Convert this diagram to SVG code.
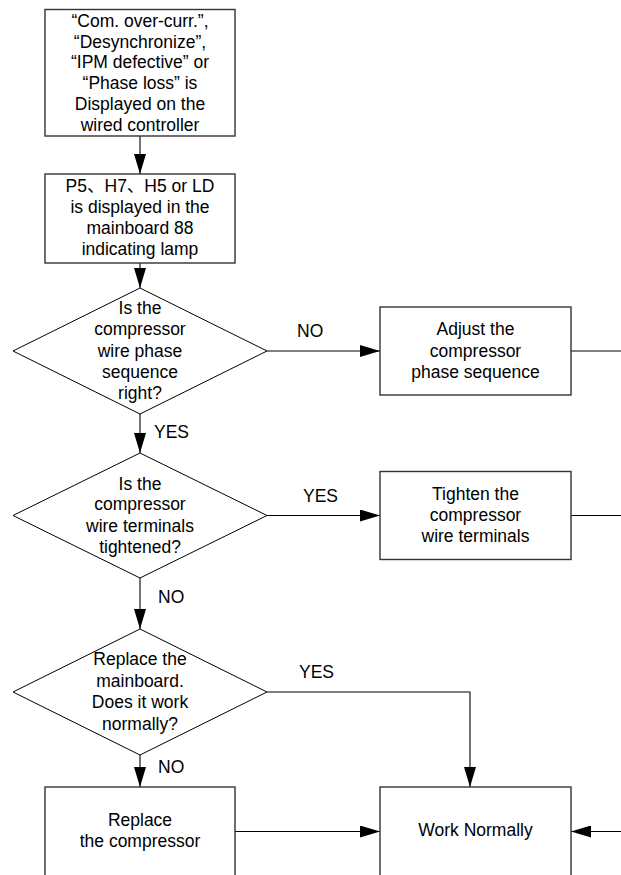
<svg xmlns="http://www.w3.org/2000/svg" width="621" height="875" viewBox="0 0 621 875">
<style>
.box{fill:#fff;stroke:#333;stroke-width:1.4}
.dia{fill:#fff;stroke:#000;stroke-width:1}
.t{font-family:"Liberation Sans","Noto Sans CJK SC",Arial,sans-serif;font-size:17.5px;fill:#000;text-anchor:middle}
.lbl{font-family:"Liberation Sans",Arial,sans-serif;font-size:17.5px;fill:#000}
.c{fill:none;stroke:#000;stroke-width:1.1}
</style>
<defs>
<marker id="ah" markerUnits="userSpaceOnUse" markerWidth="20" markerHeight="12" refX="20" refY="6" orient="auto">
<path d="M0,0 L20,6 L0,12 z" fill="#000"/>
</marker>
</defs>
<rect width="621" height="875" fill="#fff"/>
<g id="connectors">
<line class="c" x1="140" y1="136" x2="140" y2="174" marker-end="url(#ah)"/>
<line class="c" x1="140" y1="263" x2="140" y2="288" marker-end="url(#ah)"/>
<line class="c" x1="140" y1="414" x2="140" y2="453" marker-end="url(#ah)"/>
<line class="c" x1="140" y1="578" x2="140" y2="629" marker-end="url(#ah)"/>
<line class="c" x1="140" y1="755" x2="140" y2="787" marker-end="url(#ah)"/>
<line class="c" x1="267" y1="351" x2="380" y2="351" marker-end="url(#ah)"/>
<line class="c" x1="267" y1="515.5" x2="380" y2="515.5" marker-end="url(#ah)"/>
<polyline class="c" points="267,692 470,692 470,787" marker-end="url(#ah)"/>
<line class="c" x1="235" y1="831.5" x2="380" y2="831.5" marker-end="url(#ah)"/>
<line class="c" x1="621" y1="831.5" x2="571" y2="831.5" marker-end="url(#ah)"/>
<line class="c" x1="571" y1="351" x2="621" y2="351"/>
<line class="c" x1="571" y1="515.5" x2="621" y2="515.5"/>
<text class="lbl" x="297" y="337">NO</text>
<text class="lbl" x="154" y="438">YES</text>
<text class="lbl" x="303" y="502">YES</text>
<text class="lbl" x="158" y="603">NO</text>
<text class="lbl" x="299" y="678">YES</text>
<text class="lbl" x="158" y="773">NO</text>
</g>
<g id="start">
<rect class="box" x="45" y="9.5" width="190" height="126.5"/>
<text class="t" x="140" y="27">“Com. over-curr.”,</text>
<text class="t" x="140" y="47.5">“Desynchronize”,</text>
<text class="t" x="140" y="68">“IPM defective” or</text>
<text class="t" x="140" y="89">“Phase loss” is</text>
<text class="t" x="140" y="110">Displayed on the</text>
<text class="t" x="140" y="131">wired controller</text>
</g>
<g id="lamp">
<rect class="box" x="45" y="174" width="190" height="89"/>
<text class="t" x="140" y="191.5">P5、H7、H5 or LD</text>
<text class="t" x="140" y="212.5">is displayed in the</text>
<text class="t" x="140" y="233.5">mainboard 88</text>
<text class="t" x="140" y="254.5">indicating lamp</text>
</g>
<g id="q-phase">
<polygon class="dia" points="140,288 267,351 140,414 13,351"/>
<text class="t" x="140" y="313.5">Is the</text>
<text class="t" x="140" y="335">compressor</text>
<text class="t" x="140" y="356.5">wire phase</text>
<text class="t" x="140" y="377.5">sequence</text>
<text class="t" x="140" y="398.5">right?</text>
</g>
<g id="adjust">
<rect class="box" x="380" y="307" width="191" height="88"/>
<text class="t" x="475.5" y="335">Adjust the</text>
<text class="t" x="475.5" y="356.5">compressor</text>
<text class="t" x="475.5" y="377.5">phase sequence</text>
</g>
<g id="q-terminals">
<polygon class="dia" points="140,453 267,515.5 140,578 13,515.5"/>
<text class="t" x="140" y="489.5">Is the</text>
<text class="t" x="140" y="510">compressor</text>
<text class="t" x="140" y="531.5">wire terminals</text>
<text class="t" x="140" y="552.5">tightened?</text>
</g>
<g id="tighten">
<rect class="box" x="380" y="471.5" width="191" height="88"/>
<text class="t" x="475.5" y="500">Tighten the</text>
<text class="t" x="475.5" y="521">compressor</text>
<text class="t" x="475.5" y="542">wire terminals</text>
</g>
<g id="q-mainboard">
<polygon class="dia" points="140,629 267,692 140,755 13,692"/>
<text class="t" x="140" y="665">Replace the</text>
<text class="t" x="140" y="686.5">mainboard.</text>
<text class="t" x="140" y="708">Does it work</text>
<text class="t" x="140" y="730">normally?</text>
</g>
<g id="replace">
<rect class="box" x="45" y="787" width="190" height="100"/>
<text class="t" x="140" y="826">Replace</text>
<text class="t" x="140" y="847">the compressor</text>
</g>
<g id="work">
<rect class="box" x="380" y="787" width="191" height="100"/>
<text class="t" x="475.5" y="836">Work Normally</text>
</g>
</svg>
